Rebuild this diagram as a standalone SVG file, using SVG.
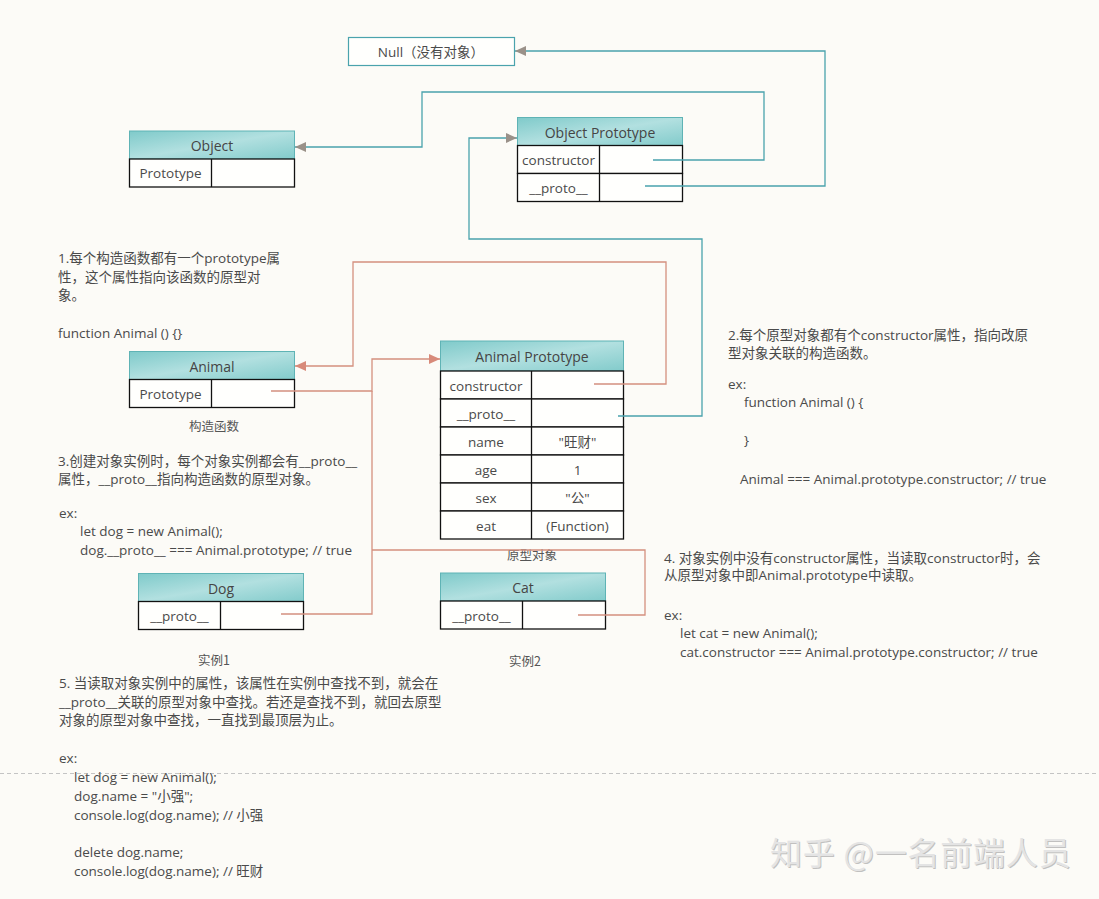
<svg xmlns="http://www.w3.org/2000/svg" width="1099" height="899" viewBox="0 0 1099 899">
<defs>
<linearGradient id="hdr" x1="0" y1="0" x2="1" y2="1">
<stop offset="0" stop-color="#7fcaca"/>
<stop offset="0.5" stop-color="#b2e0e0"/>
<stop offset="1" stop-color="#82cbcb"/>
</linearGradient>
<marker id="aT" markerUnits="userSpaceOnUse" markerWidth="12" markerHeight="10" refX="11" refY="5" orient="auto">
<path d="M0,0 L11,5 L0,10 Z" fill="#9a9189"/>
</marker>
<marker id="aR" markerUnits="userSpaceOnUse" markerWidth="12" markerHeight="10" refX="11" refY="5" orient="auto">
<path d="M0,0 L11,5 L0,10 Z" fill="#d88a7a"/>
</marker>
<style>
.t{font-family:"Open Sans","Noto Sans CJK SC",sans-serif;font-size:13.5px;fill:#4a4a4a}
.c{text-anchor:middle}
.h{font-family:"Open Sans","Noto Sans CJK SC",sans-serif;font-size:14px;fill:#454545;text-anchor:middle}
.hd{fill:url(#hdr);stroke:#5fb3b5;stroke-width:1}
.cell{fill:#fffffd;stroke:#111;stroke-width:1.3}
.lt{fill:none;stroke:#4aa3ad;stroke-width:1.3}
.lr{fill:none;stroke:#d4907f;stroke-width:1.3}
.lab{font-family:"Noto Sans CJK SC",sans-serif;font-size:12.5px;fill:#555;text-anchor:middle}
</style>
</defs>
<rect x="0" y="0" width="1099" height="899" fill="#fcfbf7"/>
<line x1="0" y1="773.5" x2="1099" y2="773.5" stroke="#c4c4c4" stroke-width="1" stroke-dasharray="4 3"/>

<g id="null">
<rect x="348.5" y="37.5" width="166" height="28" fill="#fffffd" stroke="#4aa3ad" stroke-width="1.2"/>
<text class="t c" x="431" y="57">Null（没有对象）</text>
</g>

<g id="object">
<rect class="hd" x="129.5" y="131" width="165" height="28"/>
<text class="h" x="212" y="151">Object</text>
<rect class="cell" x="129.5" y="159" width="165" height="28"/>
<line x1="211.5" y1="159" x2="211.5" y2="187" stroke="#111" stroke-width="1.3"/>
<text class="t c" x="170.5" y="178">Prototype</text>
</g>

<g id="object-prototype">
<rect class="hd" x="517.5" y="117.5" width="165" height="28"/>
<text class="h" x="600" y="137.5">Object Prototype</text>
<rect class="cell" x="517.5" y="145.5" width="165" height="28"/>
<rect class="cell" x="517.5" y="173.5" width="165" height="28"/>
<line x1="599.5" y1="145.5" x2="599.5" y2="201.5" stroke="#111" stroke-width="1.3"/>
<text class="t c" x="558.5" y="165">constructor</text>
<text class="t c" x="558.5" y="193">__proto__</text>
</g>

<g id="animal">
<rect class="hd" x="129.5" y="351.5" width="165" height="28"/>
<text class="h" x="212" y="371.5">Animal</text>
<rect class="cell" x="129.5" y="379.5" width="165" height="28"/>
<line x1="211.5" y1="379.5" x2="211.5" y2="407.5" stroke="#111" stroke-width="1.3"/>
<text class="t c" x="170.5" y="399">Prototype</text>
<text class="lab" x="214" y="431">构造函数</text>
</g>

<g id="animal-prototype">
<rect class="hd" x="440.5" y="341" width="183" height="30"/>
<text class="h" x="532" y="362">Animal Prototype</text>
<rect class="cell" x="440.5" y="371" width="183" height="28"/>
<rect class="cell" x="440.5" y="399" width="183" height="28"/>
<rect class="cell" x="440.5" y="427" width="183" height="28"/>
<rect class="cell" x="440.5" y="455" width="183" height="28"/>
<rect class="cell" x="440.5" y="483" width="183" height="28"/>
<rect class="cell" x="440.5" y="511" width="183" height="28"/>
<line x1="531.5" y1="371" x2="531.5" y2="539" stroke="#111" stroke-width="1.3"/>
<text class="t c" x="486" y="390.5">constructor</text>
<text class="t c" x="486" y="418.5">__proto__</text>
<text class="t c" x="486" y="446.5">name</text>
<text class="t c" x="486" y="474.5">age</text>
<text class="t c" x="486" y="502.5">sex</text>
<text class="t c" x="486" y="530.5">eat</text>
<text class="t c" x="577.5" y="446.5">"旺财"</text>
<text class="t c" x="577.5" y="474.5">1</text>
<text class="t c" x="577.5" y="502.5">"公"</text>
<text class="t c" x="577.5" y="530.5">(Function)</text>
<text class="lab" x="532" y="560">原型对象</text>
</g>

<g id="dog">
<rect class="hd" x="138.5" y="573.5" width="165" height="28"/>
<text class="h" x="221" y="593.5">Dog</text>
<rect class="cell" x="138.5" y="601.5" width="165" height="28"/>
<line x1="220.5" y1="601.5" x2="220.5" y2="629.5" stroke="#111" stroke-width="1.3"/>
<text class="t c" x="179.5" y="621">__proto__</text>
<text class="lab" x="214" y="665">实例1</text>
</g>

<g id="cat">
<rect class="hd" x="440.5" y="573" width="165" height="28"/>
<text class="h" x="523" y="593">Cat</text>
<rect class="cell" x="440.5" y="601" width="165" height="28"/>
<line x1="522.5" y1="601" x2="522.5" y2="629" stroke="#111" stroke-width="1.3"/>
<text class="t c" x="481.5" y="620.5">__proto__</text>
<text class="lab" x="525" y="666">实例2</text>
</g>

<g id="connectors">
<polyline class="lt" points="653,160 764,160 764,92 422,92 422,147 295,147" marker-end="url(#aT)"/>
<polyline class="lt" points="645,186 825,186 825,51 515,51" marker-end="url(#aT)"/>
<polyline class="lt" points="618,416 702,416 702,239 469,239 469,138 517,138" marker-end="url(#aT)"/>
<polyline class="lr" points="594,384 666,384 666,262 353,262 353,366 295,366" marker-end="url(#aR)"/>
<polyline class="lr" points="271,391 372,391 372,359 440,359" marker-end="url(#aR)"/>
<polyline class="lr" points="281,614 372,614 372,391"/>
<polyline class="lr" points="578,615 645,615 645,550 372,550"/>
</g>

<g id="note1" class="t">
<text x="58" y="263">1.每个构造函数都有一个prototype属</text>
<text x="58" y="281.5">性，这个属性指向该函数的原型对</text>
<text x="58" y="300">象。</text>
<text x="58" y="338">function Animal () {}</text>
</g>

<g id="note2" class="t">
<text x="728" y="340">2.每个原型对象都有个constructor属性，指向改原</text>
<text x="728" y="358">型对象关联的构造函数。</text>
<text x="728" y="389">ex:</text>
<text x="744" y="407">function Animal () {</text>
<text x="744" y="445">}</text>
<text x="740" y="484">Animal === Animal.prototype.constructor; // true</text>
</g>

<g id="note3" class="t">
<text x="58" y="466">3.创建对象实例时，每个对象实例都会有__proto__</text>
<text x="58" y="484">属性，__proto__指向构造函数的原型对象。</text>
<text x="59" y="518">ex:</text>
<text x="80" y="536">let dog = new Animal();</text>
<text x="80" y="555">dog.__proto__ === Animal.prototype; // true</text>
</g>

<g id="note4" class="t">
<text x="664" y="563">4. 对象实例中没有constructor属性，当读取constructor时，会</text>
<text x="664" y="580">从原型对象中即Animal.prototype中读取。</text>
<text x="664" y="620">ex:</text>
<text x="680" y="638">let cat = new Animal();</text>
<text x="680" y="657">cat.constructor === Animal.prototype.constructor; // true</text>
</g>

<g id="note5" class="t">
<text x="59" y="688">5. 当读取对象实例中的属性，该属性在实例中查找不到，就会在</text>
<text x="59" y="707">__proto__关联的原型对象中查找。若还是查找不到，就回去原型</text>
<text x="59" y="725">对象的原型对象中查找，一直找到最顶层为止。</text>
<text x="59" y="763">ex:</text>
<text x="74" y="782">let dog = new Animal();</text>
<text x="74" y="801">dog.name = "小强";</text>
<text x="74" y="820">console.log(dog.name); // 小强</text>
<text x="74" y="857">delete dog.name;</text>
<text x="74" y="876">console.log(dog.name); // 旺财</text>
</g>

<g id="watermark">
<text x="770" y="865" font-family="Noto Sans CJK SC,sans-serif" font-size="32" letter-spacing="0.8" fill="#9a9a9a" opacity="0.6" dx="1" dy="1">知乎 @一名前端人员</text>
<text x="770" y="865" font-family="Noto Sans CJK SC,sans-serif" font-size="32" letter-spacing="0.8" fill="#e4e4e4">知乎 @一名前端人员</text>
</g>
</svg>
